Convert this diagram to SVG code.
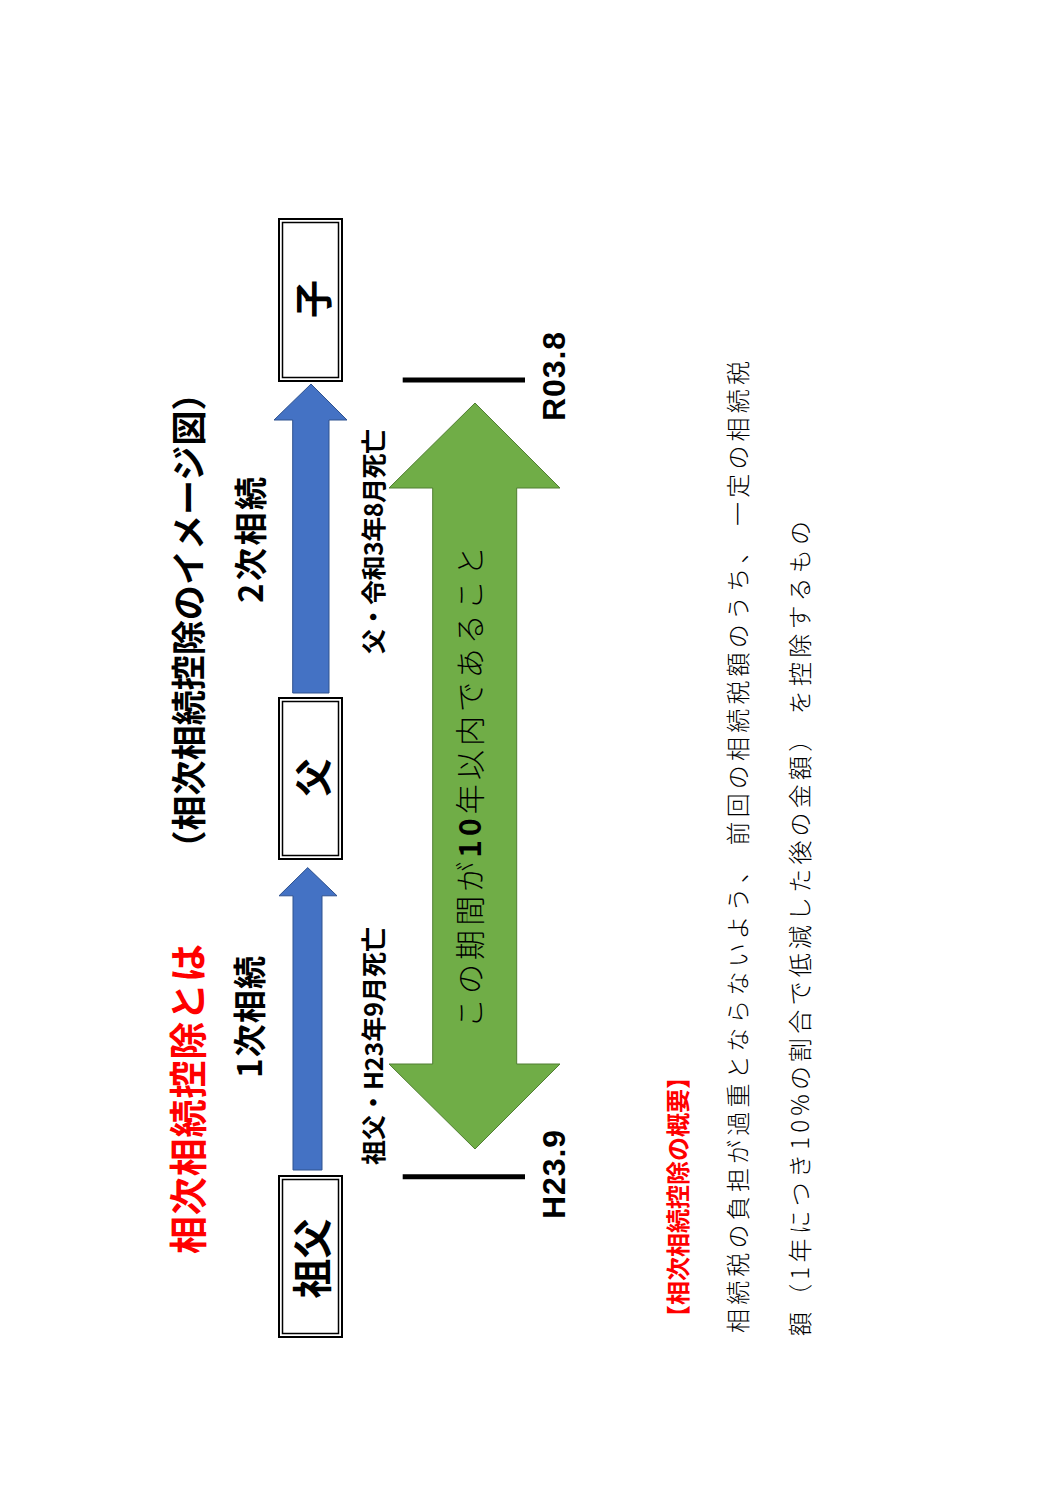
<svg xmlns="http://www.w3.org/2000/svg" width="1060" height="1500" viewBox="0 0 1060 1500">
<style>
text{font-family:"Noto Sans CJK JP","Noto Sans CJK SC",sans-serif;dominant-baseline:central;}
.b{font-weight:bold;fill:#000;}
.red{font-weight:bold;fill:#FF0000;}
.lt{font-weight:300;fill:#000;}
.lat{font-family:"Liberation Sans","Noto Sans CJK JP",sans-serif;font-weight:bold;fill:#000;}
.box{fill:#fff;stroke:#000;}
.blue{fill:#4472C4;stroke:#2F528F;stroke-width:1;}
.green{fill:#70AD47;stroke:#507E32;stroke-width:1;}
.tick{stroke:#000;stroke-width:5;}
</style>
<rect width="1060" height="1500" fill="#fff"/>

<g id="titles">
<text class="red" font-size="38" transform="translate(185.5,1254) rotate(-90)" textLength="310" lengthAdjust="spacing">相次相続控除とは</text>
<text class="b" font-size="35" transform="translate(186,865.5) rotate(-90)" textLength="490" lengthAdjust="spacing">（相次相続控除のイメージ図）</text>
<text class="b" font-size="33" transform="translate(248,1078) rotate(-90)" textLength="122" lengthAdjust="spacing">1次相続</text>
<text class="b" font-size="33" transform="translate(249,603) rotate(-90)" textLength="126" lengthAdjust="spacing">2次相続</text>
<text class="b" font-size="25" transform="translate(371.5,1165) rotate(-90)" textLength="238" lengthAdjust="spacing">祖父・H23年9月死亡</text>
<text class="b" font-size="25" transform="translate(371.5,654) rotate(-90)" textLength="225" lengthAdjust="spacing">父・令和3年8月死亡</text>
</g>

<g id="connectors">
<polygon class="blue" points="293,1170 322,1170 322,895.8 337,895.8 307.7,867.6 279,895.8 293,895.8"/>
<polygon class="blue" points="292.7,693 329,693 329,420 347,420 311,384 274,420 292.7,420"/>
</g>

<g id="node-sofu">
<rect class="box" x="279" y="1176" width="63" height="161" stroke-width="2"/>
<rect class="box" x="282.5" y="1179.5" width="56" height="154" stroke-width="1.5"/>
<text class="b" font-size="40" text-anchor="middle" transform="translate(310,1258.5) rotate(-90)">祖父</text>
</g>

<g id="node-chichi">
<rect class="box" x="279" y="698" width="63" height="161" stroke-width="2"/>
<rect class="box" x="282.5" y="701.5" width="56" height="154" stroke-width="1.5"/>
<text class="b" font-size="38" text-anchor="middle" transform="translate(310,777.5) rotate(-90)">父</text>
</g>

<g id="node-ko">
<rect class="box" x="279" y="219" width="63" height="162" stroke-width="2"/>
<rect class="box" x="282.5" y="222.5" width="56" height="155" stroke-width="1.5"/>
<text class="b" font-size="38" text-anchor="middle" transform="translate(310.5,299) rotate(-90)">子</text>
</g>

<g id="period">
<polygon class="green" points="475,403 560,488 516.7,488 516.7,1064 560,1064 475,1149 389,1064 432.7,1064 432.7,488 389,488"/>
<text class="lt" font-size="30" transform="translate(468,1028) rotate(-90)" textLength="482" lengthAdjust="spacing">この期間が<tspan font-weight="bold">10</tspan>年以内であること</text>
</g>

<g id="dates">
<line class="tick" x1="402.7" y1="1176.7" x2="525" y2="1176.7"/>
<line class="tick" x1="402.7" y1="380" x2="525" y2="380"/>
<text class="lat" font-size="32" transform="translate(553.5,1219) rotate(-90)" textLength="89" lengthAdjust="spacing">H23.9</text>
<text class="lat" font-size="32" transform="translate(554,421) rotate(-90)" textLength="89" lengthAdjust="spacing">R03.8</text>
</g>

<g id="summary">
<text class="red" font-size="24" transform="translate(676.5,1329) rotate(-90)" textLength="264" lengthAdjust="spacing">【相次相続控除の概要】</text>
<text class="lt" font-size="24" transform="translate(736,1333) rotate(-90)" textLength="972" lengthAdjust="spacing">相続税の負担が過重とならないよう、 前回の相続税額のうち、 一定の相続税</text>
<text class="lt" font-size="24" transform="translate(798.5,1336) rotate(-90)" textLength="815" lengthAdjust="spacing">額（1年につき10%の割合で低減した後の金額） を控除するもの</text>
</g>
</svg>
